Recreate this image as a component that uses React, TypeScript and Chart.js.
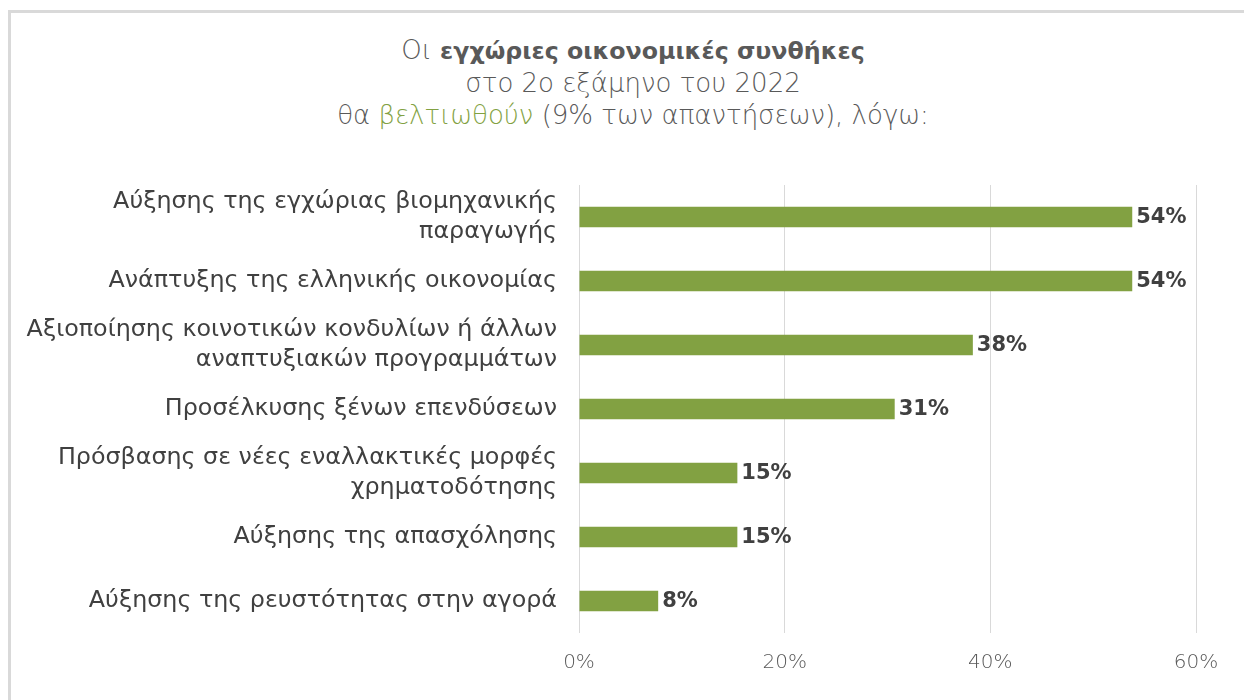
import React, { useEffect, useRef } from "react";
import { Chart, registerables } from "chart.js";

Chart.register(...registerables);

const categories: (string | string[])[] = [
  ["Αύξησης της εγχώριας βιομηχανικής", "παραγωγής"],
  "Ανάπτυξης της ελληνικής οικονομίας",
  ["Αξιοποίησης κοινοτικών κονδυλίων ή άλλων", "αναπτυξιακών προγραμμάτων"],
  "Προσέλκυσης ξένων επενδύσεων",
  ["Πρόσβασης σε νέες εναλλακτικές μορφές", "χρηματοδότησης"],
  "Αύξησης της απασχόλησης",
  "Αύξησης της ρευστότητας στην αγορά",
];
const values: number[] = [53.8, 53.8, 38.3, 30.7, 15.4, 15.4, 7.7];
const valueLabelsText: string[] = ["54%", "54%", "38%", "31%", "15%", "15%", "8%"];
const xTicks: number[] = [0, 20, 40, 60];

const FONT = "'DejaVu Sans', sans-serif";
const GREEN = "#82a142";

const valueLabels = {
  id: "valueLabels",
  afterDatasetsDraw(chart: any) {
    const ctx = chart.ctx;
    const meta = chart.getDatasetMeta(0);
    ctx.save();
    ctx.font = `bold 21px ${FONT}`;
    ctx.fillStyle = "#404040";
    ctx.textAlign = "left";
    ctx.textBaseline = "middle";
    meta.data.forEach((bar: any, i: number) => {
      ctx.fillText(valueLabelsText[i], bar.x + 4, bar.y + 1);
    });
    ctx.restore();
  },
};

export default function App() {
  const ref = useRef<HTMLCanvasElement>(null);
  useEffect(() => {
    document.documentElement.style.overflow = "hidden";
    if (!ref.current) return;
    const chart = new Chart(ref.current, {
      type: "bar",
      data: {
        labels: categories,
        datasets: [
          {
            data: values,
            backgroundColor: GREEN,
            categoryPercentage: 1,
            barPercentage: 0.32,
          },
        ],
      },
      options: {
        indexAxis: "y",
        animation: false,
        responsive: false,
        layout: { padding: { left: 0, right: 48, top: 172, bottom: 7 } },
        plugins: {
          legend: { display: false },
          title: { display: false },
          tooltip: { enabled: false },
        },
        scales: {
          x: {
            min: 0,
            max: 60,
            afterBuildTicks: (scale: any) => {
              scale.ticks = xTicks.map((v) => ({ value: v }));
            },
            afterFit: (scale: any) => {
              scale.height = 50;
            },
            grid: { color: "#d9d9d9", drawTicks: false, lineWidth: 1 },
            border: { display: false },
            ticks: {
              padding: 18,
              color: "#595959",
              font: { family: FONT, size: 20, weight: "200" as any },
              callback: (v: any) => `${v}%`,
            },
          },
          y: {
            afterFit: (scale: any) => {
              scale.width = 568;
            },
            grid: { display: false, drawTicks: false },
            border: { display: false },
            ticks: {
              padding: 22,
              color: "#404040",
              font: { family: FONT, size: 23.8, lineHeight: 1.26 },
            },
          },
        },
      },
      plugins: [valueLabels],
    });
    return () => chart.destroy();
  }, []);

  return (
    <div
      style={{
        position: "fixed",
        left: 8,
        top: 10,
        width: 1300,
        height: 720,
        boxSizing: "border-box",
        borderTop: "3px solid #d9d9d9",
        borderLeft: "3px solid #d9d9d9",
        background: "#fff",
        overflow: "hidden",
      }}
    >
      <div
        style={{
          position: "absolute",
          left: 0,
          width: 1244,
          top: 21,
          textAlign: "center",
          fontFamily: FONT,
          fontSize: 26,
          lineHeight: "32px",
          color: "#595959",
          fontWeight: 200,
        }}
      >
        <div>
          Οι <b style={{ fontWeight: 700, fontSize: 23.7 }}>εγχώριες οικονομικές συνθήκες</b>
        </div>
        <div>στο 2ο εξάμηνο του 2022</div>
        <div>
          θα <span style={{ color: GREEN }}>βελτιωθούν</span> (9% των απαντήσεων), λόγω:
        </div>
      </div>
      <canvas
        ref={ref}
        width={1233}
        height={677}
        style={{ position: "absolute", left: 0, top: 0, width: 1233, height: 677 }}
      />
    </div>
  );
}
